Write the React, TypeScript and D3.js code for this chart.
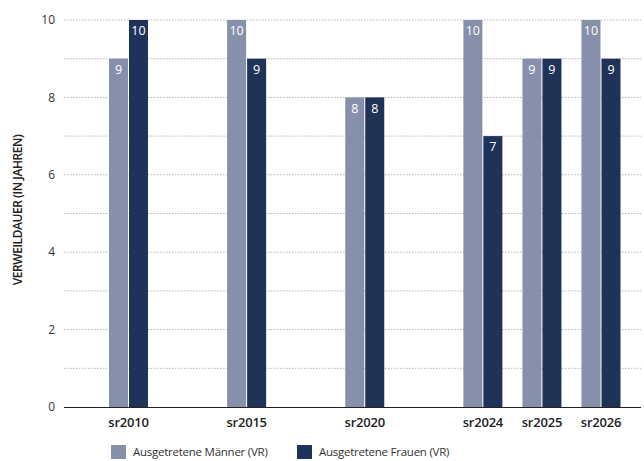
import React from "react";
import * as d3 from "d3";

const categories = ["sr2010", "", "sr2015", " ", "sr2020", "  ", "sr2024", "sr2025", "sr2026"];
const seriesNames = ["Ausgetretene Männer (VR)", "Ausgetretene Frauen (VR)"];
const maenner = [9, null, 10, null, 8, null, 10, 9, 10];
const frauen = [10, null, 9, null, 8, null, 7, 9, 9];
const yTicks = [0, 2, 4, 6, 8, 10];
const gridTicks = [1, 2, 3, 4, 5, 6, 7, 8, 9, 10];
const colors = ["#8690ab", "#1f3257"];

const W = 644;
const H = 461;
const FONT = "'Open Sans', 'Noto Sans', sans-serif";

export default function App() {
  const plotLeft = 64;
  const plotRight = 641;
  const x = d3.scalePoint<string>().domain(categories).range([128.5, 601]).padding(0);
  const y = d3.scaleLinear().domain([0, 10]).range([407, 20]);
  const barW = 19;
  const gap = 1;
  const series = [maenner, frauen];

  return (
    <svg width={W} height={H} style={{ position: "absolute", left: 0, top: 0, fontFamily: FONT }}>
      {gridTicks.map((t) => (
        <line key={"g" + t} x1={plotLeft} x2={plotRight} y1={y(t)} y2={y(t)} stroke="#b5b5b5" strokeWidth={1} strokeDasharray="1.5,1.5" />
      ))}
      {yTicks.map((t) => (
        <text key={"yt" + t} x={55} y={y(t)} dy="0.35em" textAnchor="end" fontSize={12} fill="#333">
          {t}
        </text>
      ))}
      <text transform={`translate(18,210) rotate(-90)`} textAnchor="middle" dy="0.35em" fontSize={12} fill="#222" fontWeight={600} letterSpacing={-0.45}>
        VERWEILDAUER (IN JAHREN)
      </text>
      {categories.map((c, i) => {
        const cx = x(c)!;
        return series.map((s, k) => {
          const v = s[i];
          if (v == null) return null;
          const bx = k === 0 ? cx - gap / 2 - barW : cx + gap / 2;
          return (
            <g key={c + k}>
              <rect x={bx} y={y(v)} width={barW} height={y(0) - y(v)} fill={colors[k]} />
              <text x={bx + barW / 2} y={y(v) + 11} dy="0.35em" textAnchor="middle" fontSize={12.5} fill="#fff">
                {v}
              </text>
            </g>
          );
        });
      })}
      <line x1={plotLeft} x2={plotRight} y1={y(0) + 0.5} y2={y(0) + 0.5} stroke="#222" strokeWidth={1.2} />
      {categories.map((c) =>
        c.trim() ? (
          <text key={"xl" + c} x={x(c)!} y={427} textAnchor="middle" fontSize={13} fontWeight={600} fill="#222" letterSpacing={-0.2}>
            {c}
          </text>
        ) : null
      )}
      {seriesNames.map((n, k) => {
        const lx = k === 0 ? 111 : 297;
        return (
          <g key={n}>
            <rect x={lx} y={445} width={15} height={14} fill={colors[k]} />
            <text x={lx + 22} y={452} dy="0.35em" fontSize={11.5} fill="#333" letterSpacing={-0.25}>
              {n}
            </text>
          </g>
        );
      })}
    </svg>
  );
}
